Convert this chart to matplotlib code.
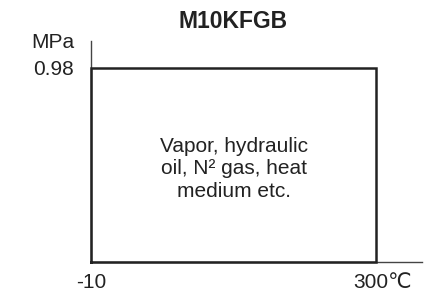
import matplotlib
matplotlib.use("Agg")
import matplotlib.pyplot as plt
import matplotlib.transforms as mtransforms

plt.rcParams['font.family'] = ['Liberation Sans', 'DejaVu Sans']

title = "M10KFGB"
temp_range = [-10, 300]          # degC
max_pressure = 0.98              # MPa
x_tick_labels = ["-10", "300\u2103"]
y_tick_labels = ["0.98"]
y_unit = "MPa"
note = "Vapor, hydraulic\noil, N\u00b2 gas, heat\nmedium etc."

W, H = 433, 295
fig = plt.figure(figsize=(W / 100, H / 100), dpi=100)
ax = fig.add_axes([91 / W, (H - 262) / H, (422 - 91) / W, (262 - 41) / H])

# rectangle of usable range
rx = [temp_range[0], temp_range[0], temp_range[1], temp_range[1], temp_range[0]]
ry = [0, max_pressure, max_pressure, 0, 0]
ax.plot(rx, ry, color="#222222", lw=1.8, solid_joinstyle="miter", clip_on=False, zorder=3)

ax.set_xlim(temp_range[0], 350)
ax.set_ylim(0, 1.116)

for s in ["top", "right"]:
    ax.spines[s].set_visible(False)
for s in ["left", "bottom"]:
    ax.spines[s].set_color("#444444")
    ax.spines[s].set_linewidth(1.0)

ax.set_xticks(temp_range)
ax.set_xticklabels(x_tick_labels)
ax.set_yticks([max_pressure])
ax.set_yticklabels(y_tick_labels)
ax.tick_params(axis="x", length=0, pad=8, labelsize=15, labelcolor="#222222")
ax.tick_params(axis="y", length=0, pad=12, labelsize=15, labelcolor="#222222")

# nudge the "300℃" label right so its digits sit under the tick
lbl = ax.get_xticklabels()[1]
lbl.set_transform(lbl.get_transform() + mtransforms.ScaledTranslation(7 / 100, 0, fig.dpi_scale_trans))

ax.annotate(y_unit, xy=(0, 1), xycoords="axes fraction", xytext=(-12, -1),
            textcoords="offset points", ha="right", va="center", fontsize=15,
            color="#222222")

xc = (temp_range[0] + temp_range[1]) / 2
trans = mtransforms.blended_transform_factory(ax.transData, fig.transFigure)
ax.text(xc, 1 - 22 / H, title, transform=trans, ha="center", va="center",
        fontsize=16.5, fontweight="bold", color="#222222")

ax.text(xc, 0.47, note, ha="center", va="center", fontsize=15,
        linespacing=1.25, color="#222222")

fig.savefig("out.png", dpi=100)
